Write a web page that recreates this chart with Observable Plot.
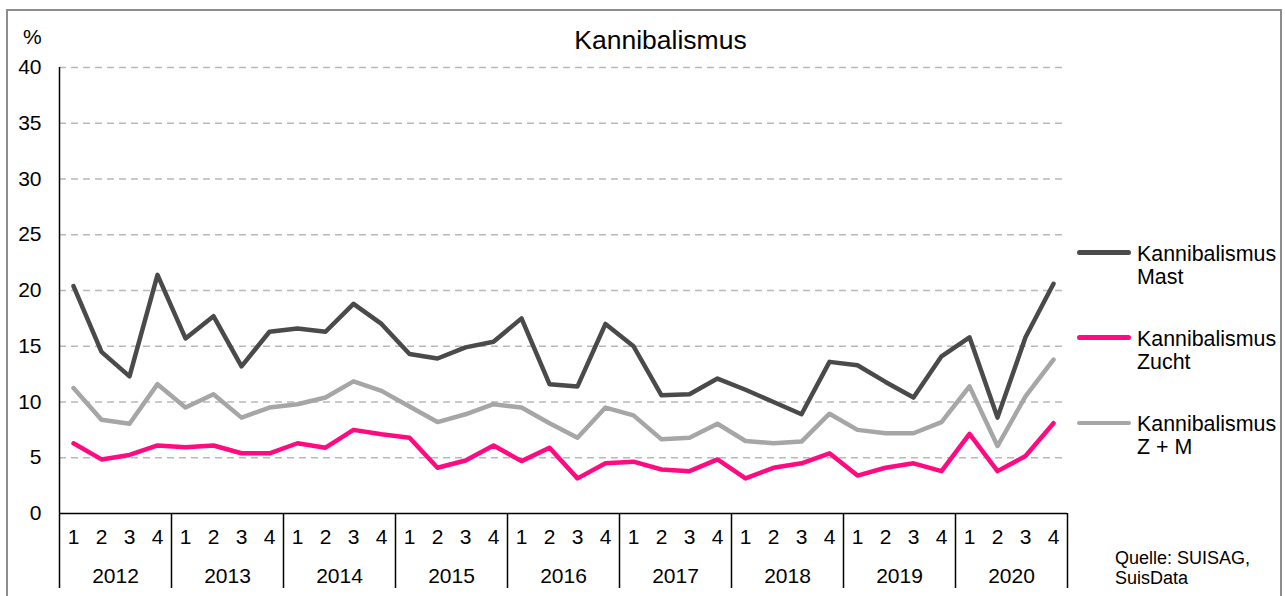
<!DOCTYPE html>
<html>
<head>
<meta charset="utf-8">
<script src="https://cdn.jsdelivr.net/npm/d3@7"></script>
<script src="https://cdn.jsdelivr.net/npm/@observablehq/plot@0.6"></script>
<style>
  html, body { margin: 0; padding: 0; background: #fff; }
  body { position: relative; width: 1285px; height: 596px; overflow: hidden; font-family: "Liberation Sans", Arial, sans-serif; color: #000; }
  #chart { position: absolute; left: 0; top: 0; }
  .abs { position: absolute; white-space: nowrap; }
  #frame { position: absolute; left: 6px; top: 9px; width: 1276px; height: 700px; box-sizing: border-box; border: 2px solid #8c8c8c; border-bottom: none; }
  .legline { position: absolute; width: 54px; height: 4.5px; border-radius: 2.5px; }
  .legtext { position: absolute; font-size: 21.4px; line-height: 23.5px; }
</style>
</head>
<body>
<div id="frame"></div>
<div id="chart"></div>
<div class="abs" style="left:0;width:1321px;text-align:center;top:27px;font-size:26.5px;line-height:26.5px;">Kannibalismus</div>
<div class="abs" style="left:23px;top:26px;font-size:21px;line-height:21px;">%</div>
<div id="legend"></div>
<div class="abs" style="left:1115px;top:549px;font-size:18px;line-height:19.5px;">Quelle: SUISAG,<br>SuisData</div>
<script>
// ---- data ----
const years = ["2012","2013","2014","2015","2016","2017","2018","2019","2020"];
const quarterLabels = ["1","2","3","4"];
const mast = [20.4,14.5,12.3,21.4,15.7,17.7,13.2,16.3,16.6,16.3,18.8,17.0,
              14.3,13.9,14.9,15.4,17.5,11.6,11.4,17.0,15.0,10.6,10.7,12.1,
              11.1,10.0,8.9,13.6,13.3,11.8,10.4,14.1,15.8,8.6,15.8,20.6];
const zucht = [6.3,4.85,5.25,6.1,5.95,6.1,5.4,5.4,6.3,5.9,7.5,7.1,
               6.8,4.1,4.75,6.1,4.7,5.9,3.15,4.5,4.65,3.95,3.8,4.85,
               3.15,4.1,4.5,5.4,3.4,4.1,4.5,3.8,7.15,3.8,5.15,8.1];
const zm = [11.25,8.4,8.05,11.6,9.5,10.7,8.6,9.5,9.8,10.4,11.85,11.0,
            9.6,8.2,8.9,9.8,9.5,8.1,6.8,9.5,8.8,6.65,6.8,8.05,
            6.5,6.3,6.45,8.95,7.5,7.2,7.2,8.2,11.4,6.05,10.5,13.8];
const yTicks = [0,5,10,15,20,25,30,35,40];
const seriesNames = ["Kannibalismus\nMast", "Kannibalismus\nZucht", "Kannibalismus\nZ + M"];
const seriesColors = ["#4a4a4a", "#ff0a80", "#a6a6a6"];

// ---- derived tables ----
const rows = [];
years.forEach((y, yi) => quarterLabels.forEach((q, qi) => {
  const i = yi * 4 + qi;
  rows.push({i, q, year: y, mast: mast[i], zucht: zucht[i], zm: zm[i]});
}));
const yearRows = years.map((y, yi) => ({year: y, c: yi * 4 + 1.5}));
const innerDividers = years.map((y, yi) => yi * 4 + 3.5);

const chart = Plot.plot({
  width: 1285,
  height: 596,
  marginLeft: 59,
  marginRight: 218,
  marginTop: 67,
  marginBottom: 83,
  style: {fontFamily: "'Liberation Sans', Arial, sans-serif", fontSize: "21px", color: "#000", background: "transparent", overflow: "visible"},
  x: {type: "linear", domain: [-0.5, rows.length - 0.5], axis: null},
  y: {domain: [0, 40], axis: null},
  marks: [
    Plot.gridY(yTicks.filter(d => d > 0), {stroke: "#b8b8b8", strokeOpacity: 1, strokeWidth: 1.5, strokeDasharray: "7,5"}),
    Plot.axisY(yTicks, {tickSize: 0, tickPadding: 18, fontSize: 21, label: null, textAnchor: "end"}),
    Plot.line(rows, {x: "i", y: "zm", stroke: seriesColors[2], strokeWidth: 4.5}),
    Plot.line(rows, {x: "i", y: "zucht", stroke: seriesColors[1], strokeWidth: 4.5}),
    Plot.line(rows, {x: "i", y: "mast", stroke: seriesColors[0], strokeWidth: 4.5}),
    Plot.ruleY([0], {stroke: "#000", strokeWidth: 1.5}),
    Plot.ruleX([-0.5], {stroke: "#000", strokeWidth: 1.5, insetBottom: -75}),
    Plot.ruleX(innerDividers, {x: d => d, y1: 0, y2: 0, stroke: "#000", strokeWidth: 1.5, insetBottom: -75}),
    Plot.text(rows, {x: "i", text: "q", frameAnchor: "bottom", dy: 30, fontSize: 21, fill: "#000"}),
    Plot.text(yearRows, {x: "c", text: "year", frameAnchor: "bottom", dy: 69, fontSize: 21, fill: "#000"})
  ]
});
document.getElementById("chart").appendChild(chart);

// ---- legend (HTML overlay) ----
const legend = document.getElementById("legend");
const legLineTops = [250, 335, 420.5];
const legTextTops = [242.7, 327.7, 412.7];
seriesNames.forEach((name, k) => {
  const ln = document.createElement("div");
  ln.className = "legline";
  ln.style.left = "1077px";
  ln.style.top = legLineTops[k] + "px";
  ln.style.background = seriesColors[k];
  legend.appendChild(ln);
  const tx = document.createElement("div");
  tx.className = "legtext";
  tx.style.left = "1137px";
  tx.style.top = legTextTops[k] + "px";
  tx.innerHTML = name.split("\n").join("<br>");
  legend.appendChild(tx);
});
</script>
</body>
</html>
